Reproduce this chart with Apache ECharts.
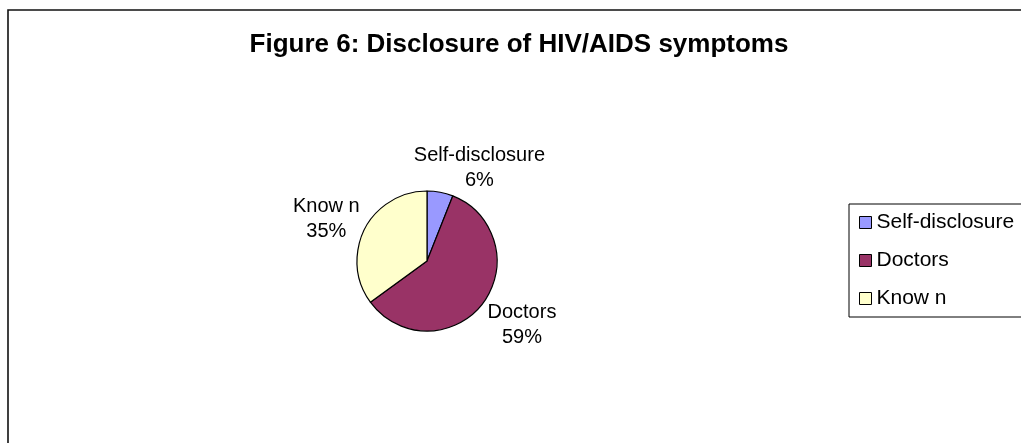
<!DOCTYPE html>
<html>
<head>
<meta charset="utf-8">
<script src="https://cdn.jsdelivr.net/npm/echarts@6/dist/echarts.min.js"></script>
<style>html,body{margin:0;padding:0;background:#fff;}#c{width:1021px;height:443px;}</style>
</head>
<body>
<div id="c"></div>
<script>
const titleText = 'Figure 6: Disclosure of HIV/AIDS symptoms';
const categories = ['Self-disclosure', 'Doctors', 'Know n'];
const values = [6, 59, 35];
const colors = ['#9999FF', '#993366', '#FFFFCC'];

const CX = 427, CY = 261, R = 70;
const total = values.reduce((a, b) => a + b, 0);
const midAngles = [];
let acc = 0;
values.forEach(v => { midAngles.push((acc + v / 2) / total * 2 * Math.PI); acc += v; });
const clamp = (v, m) => Math.max(-m, Math.min(m, v));

const chart = echarts.init(document.getElementById('c'), null, {renderer: 'canvas'});
chart.setOption({
  backgroundColor: '#fff',
  animation: false,
  title: {
    text: titleText,
    left: 514, top: 27, textAlign: 'center',
    textStyle: {fontFamily: 'Liberation Sans, Arial', fontWeight: 'bold', fontSize: 26, color: '#000'}
  },
  graphic: [{
    type: 'rect', shape: {x: 8, y: 10, width: 1040, height: 460},
    style: {fill: 'none', stroke: '#111', lineWidth: 1.6}, silent: true, z: -1
  }],
  legend: {
    orient: 'vertical', left: 849, top: 204,
    data: categories,
    borderColor: '#000', borderWidth: 1,
    padding: [8, 30, 8, 10],
    itemGap: 17, itemWidth: 12, itemHeight: 12, icon: 'rect',
    itemStyle: {borderColor: '#000', borderWidth: 1},
    textStyle: {fontFamily: 'Liberation Sans, Arial', fontSize: 21, color: '#000'}
  },
  series: [{
    type: 'pie',
    center: [CX, CY], radius: R,
    startAngle: 90, clockwise: true,
    percentPrecision: 0,
    data: categories.map((c, i) => ({name: c, value: values[i], itemStyle: {color: colors[i]}})),
    itemStyle: {borderColor: '#000', borderWidth: 1.2},
    label: {
      show: true, position: 'outside', formatter: '{b}\n{d}%',
      fontFamily: 'Liberation Sans, Arial', fontSize: 20, lineHeight: 25, color: '#000'
    },
    labelLine: {show: false},
    labelLayout: function (p) {
      const a = midAngles[p.dataIndex];
      const s = Math.sin(a), c = Math.cos(a);
      const hw = p.labelRect.width / 2, hh = p.labelRect.height / 2;
      const px = CX + R * s, py = CY - R * c;
      return {
        x: px + hw * clamp(3.2 * s, 1.15),
        y: py - hh * clamp(1.2 * c, 1.1) + 3,
        align: 'center', verticalAlign: 'middle'
      };
    },
    emphasis: {disabled: true}
  }]
});
</script>
</body>
</html>
